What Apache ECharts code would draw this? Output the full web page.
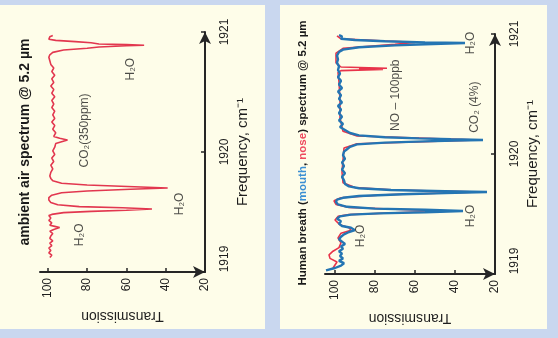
<!DOCTYPE html>
<html><head><meta charset="utf-8">
<script src="https://cdn.jsdelivr.net/npm/echarts@6/dist/echarts.min.js"></script>
<style>html,body{margin:0;padding:0;background:#c9d7ef}#c{width:558px;height:338px}</style>
</head><body><div id="c"></div>
<script>
// ---- data (frequency cm^-1, transmission %) ----
const freqTicks = [1919, 1920, 1921];
const transTicks = [20, 40, 60, 80, 100];

const ambientAir = [
  [1919.12,99],[1919.14,98],[1919.16,99.5],[1919.18,98.5],[1919.20,99.5],[1919.22,98],[1919.24,99],
  [1919.26,97.5],[1919.28,99],[1919.30,98.5],[1919.32,97.5],[1919.34,99],[1919.355,97],[1919.37,94],
  [1919.38,96.5],[1919.39,99],[1919.41,98],[1919.43,99.5],[1919.45,98.5],[1919.47,99.5],[1919.48,98],
  [1919.495,92],[1919.505,78],[1919.515,60],[1919.525,47],[1919.535,62],[1919.545,84],[1919.56,95],
  [1919.58,98.5],[1919.60,99.5],[1919.62,99.5],[1919.64,98],[1919.66,93],[1919.675,80],[1919.69,58],
  [1919.70,39],[1919.71,56],[1919.725,80],[1919.74,93],[1919.76,97.5],[1919.78,98.5],[1919.80,99],
  [1919.83,98.5],[1919.86,97.5],[1919.89,98.5],[1919.92,97],[1919.95,98],[1919.98,96.5],[1920.01,97.5],
  [1920.04,96.5],[1920.07,96],[1920.085,93],[1920.10,90],[1920.115,94],[1920.13,97],[1920.16,96],
  [1920.19,97.5],[1920.22,96.5],[1920.25,98],[1920.28,96.5],[1920.31,97.5],[1920.34,96.5],[1920.37,98],
  [1920.40,97],[1920.43,98],[1920.46,96.5],[1920.49,98],[1920.52,97],[1920.55,98.5],[1920.58,97],
  [1920.61,98],[1920.64,96.5],[1920.67,98],[1920.70,97],[1920.73,98.5],[1920.76,99],[1920.79,99.5],
  [1920.81,99],[1920.83,97.5],[1920.85,92],[1920.865,80],[1920.875,74],[1920.885,60],[1920.89,51],
  [1920.895,60],[1920.90,74],[1920.91,78],[1920.92,86],[1920.93,96],[1920.94,99.5],[1920.95,100],
  [1920.96,99],[1920.97,97.5]
];

const breathMouth = [
  [1919.03,104.5],[1919.05,100],[1919.07,97],[1919.09,95.5],[1919.11,98],[1919.13,96],[1919.15,97.5],
  [1919.17,96.5],[1919.19,98],[1919.21,96],[1919.23,97],[1919.25,95],[1919.27,96.5],[1919.29,98],
  [1919.31,97],[1919.33,95.5],[1919.35,93],[1919.365,90],[1919.375,89],[1919.385,92],[1919.40,96.5],
  [1919.42,98],[1919.44,97],[1919.46,99],[1919.48,97.5],[1919.495,92],[1919.505,78],[1919.515,55],
  [1919.525,36],[1919.535,55],[1919.545,80],[1919.56,94],[1919.58,98.5],[1919.60,99.5],[1919.62,99],
  [1919.635,96],[1919.65,88],[1919.665,66],[1919.675,45],[1919.683,24],[1919.69,45],[1919.70,72],
  [1919.715,88],[1919.73,93],[1919.75,95],[1919.78,95.5],[1919.81,96.5],[1919.84,95],[1919.87,96.5],
  [1919.90,95.5],[1919.93,96.5],[1919.96,95],[1919.99,96],[1920.02,95.5],[1920.04,94],[1920.06,92.5],
  [1920.08,89],[1920.095,75],[1920.105,55],[1920.112,40],[1920.117,26],[1920.123,42],[1920.13,58],
  [1920.14,75],[1920.155,88],[1920.175,92.5],[1920.20,95],[1920.225,97.5],[1920.25,96],[1920.28,98],
  [1920.31,96.5],[1920.34,98],[1920.37,97],[1920.40,98.5],[1920.43,96.5],[1920.46,98],[1920.49,97],
  [1920.52,98.5],[1920.55,96.5],[1920.58,98],[1920.61,97],[1920.64,98.5],[1920.67,97.5],[1920.70,98.5],
  [1920.73,98],[1920.76,99],[1920.79,98.5],[1920.82,99],[1920.85,98],[1920.87,96],[1920.89,88],
  [1920.905,70],[1920.915,55],[1920.925,35],[1920.93,55],[1920.94,75],[1920.95,90],[1920.96,97],
  [1920.97,98],[1920.98,96.5],[1920.99,98]
];

const breathNose = [
  [1919.05,101],[1919.10,99],[1919.13,102.5],[1919.16,103],[1919.19,101],[1919.22,98],[1919.26,97],
  [1919.30,98.5],[1919.34,97],[1919.365,92],[1919.375,91],[1919.385,93],[1919.41,97.5],[1919.45,100],
  [1919.48,98.5],[1919.495,93],[1919.51,70],[1919.525,40],[1919.54,70],[1919.555,93],[1919.58,99.5],
  [1919.61,100.5],[1919.635,97],[1919.66,75],[1919.683,27],[1919.70,70],[1919.72,90],[1919.76,96],
  [1919.85,96.5],[1919.95,96],[1920.05,95.5],[1920.085,89],[1920.117,28],[1920.15,89],[1920.19,96],
  [1920.30,97.5],[1920.45,97.5],[1920.60,98],[1920.68,98.5],[1920.695,97],[1920.705,76],[1920.71,88],
  [1920.715,74],[1920.725,97],[1920.76,99.5],[1920.84,99.5],[1920.88,96],[1920.915,70],[1920.93,60],
  [1920.94,72],[1920.96,97],[1920.985,99]
];

// annotations: [transmission, frequency, text]
const ambientNotes = [
  [58, 1920.69, 'H₂O'],
  [81.5, 1920.18, 'CO₂(350ppm)'],
  [33, 1919.567, 'H₂O'],
  [84, 1919.31, 'H₂O']
];
const breathNotes = [
  [32, 1920.925, 'H₂O'],
  [69.5, 1920.49, 'NO – 100ppb'],
  [30, 1920.39, 'CO₂ (4%)'],
  [32, 1919.483, 'H₂O'],
  [87, 1919.317, 'H₂O']
];

const titleLeft = 'ambient air spectrum @ 5.2 µm';
const freqName = 'Frequency, cm⁻¹';
const transName = 'Transmission';

// ---- chart ----
const chart = echarts.init(document.getElementById('c'), null, {renderer: 'canvas'});
const axisColor = '#262626';
const txt = '#1e1e1e';
const font = 'Liberation Sans, Arial, sans-serif';

function xAx(gi, max) {
  return {
    type: 'value', gridIndex: gi, min: 20, max: max, inverse: true,
    axisLine: {onZero: false, lineStyle: {color: axisColor, width: 2}, symbol: ['none', 'arrow'], symbolSize: [9, 12]},
    axisTick: {inside: true, length: 4, lineStyle: {color: axisColor, width: 1.5}, customValues: transTicks},
    axisLabel: {rotate: 90, margin: 6, color: txt, fontSize: 12, fontFamily: font, customValues: transTicks,
      formatter: v => String(v)},
    splitLine: {show: false},
    name: transName, nameLocation: 'middle', nameRotate: 180, nameGap: 37,
    nameTextStyle: {color: txt, fontSize: 14, fontFamily: font}
  };
}
function yAx(gi) {
  return {
    type: 'value', gridIndex: gi, min: 1919, max: 1921, position: 'right',
    axisLine: {onZero: false, lineStyle: {color: axisColor, width: 2}, symbol: ['none', 'arrow'], symbolSize: [9, 12]},
    axisTick: {inside: true, length: 4, lineStyle: {color: axisColor, width: 1.5}, customValues: freqTicks},
    axisLabel: {rotate: 90, margin: 14, color: txt, fontSize: 12, fontFamily: font, customValues: freqTicks,
      formatter: v => (v === freqTicks[0] ? '{lo|' + String(v) + '}' : String(v)),
      rich: {lo: {fontSize: 12, fontFamily: font, color: txt, padding: [0, 0, 0, 26]}}},
    splitLine: {show: false},
    name: freqName, nameLocation: 'middle', nameRotate: 90, nameGap: 30,
    nameTextStyle: {color: txt, fontSize: 15, fontFamily: font}
  };
}
function notes(arr, gi) {
  return {
    type: 'scatter', xAxisIndex: gi, yAxisIndex: gi, symbolSize: 0, silent: true, z: 5,
    data: arr.map(n => ({value: [n[0], n[1]], label: {formatter: n[2]}})),
    label: {show: true, position: 'inside', rotate: 90, color: txt, fontSize: 12, fontFamily: font}
  };
}
const swap = arr => arr.map(p => [p[1], p[0]]);

chart.setOption({
  animation: false,
  backgroundColor: '#c9d7ef',
  graphic: [
    {type: 'rect', shape: {x: 0, y: 5, width: 265, height: 324}, style: {fill: '#fefde9'}, z: -10},
    {type: 'rect', shape: {x: 280, y: 5, width: 267, height: 324}, style: {fill: '#fefde9'}, z: -10},
    {type: 'text', x: 25, y: 142, rotation: Math.PI / 2, z: 10,
      style: {text: titleLeft, fill: '#1a1a1a', font: 'bold 14px Liberation Sans, Arial, sans-serif', align: 'center', verticalAlign: 'middle'}},
    {type: 'text', x: 303, y: 153, rotation: Math.PI / 2, z: 10,
      style: {
        text: '{b|Human breath (}{m|mouth}{b|, }{n|nose}{b|) spectrum @ 5.2 µm}',
        align: 'center', verticalAlign: 'middle',
        rich: {
          b: {fill: '#1a1a1a', font: 'bold 11.5px Liberation Sans, Arial, sans-serif'},
          m: {fill: '#3b8fd3', font: 'bold 11.5px Liberation Sans, Arial, sans-serif'},
          n: {fill: '#ee4a5e', font: 'bold 11.5px Liberation Sans, Arial, sans-serif'}
        }
      }}
  ],
  grid: [
    {left: 40, right: 353, top: 32, bottom: 66},
    {left: 325, right: 63, top: 34, bottom: 64}
  ],
  xAxis: [xAx(0, 104), xAx(1, 105)],
  yAxis: [yAx(0), yAx(1)],
  series: [
    {type: 'line', xAxisIndex: 0, yAxisIndex: 0, data: swap(ambientAir), showSymbol: false, silent: true,
      lineStyle: {color: '#e2374f', width: 1.6}},
    {type: 'line', xAxisIndex: 1, yAxisIndex: 1, data: swap(breathNose), showSymbol: false, silent: true,
      lineStyle: {color: '#e8334a', width: 1.6}},
    {type: 'line', xAxisIndex: 1, yAxisIndex: 1, data: swap(breathMouth), showSymbol: false, silent: true,
      lineStyle: {color: '#2475b3', width: 2.4}},
    notes(ambientNotes, 0),
    notes(breathNotes, 1)
  ]
});
</script></body></html>
